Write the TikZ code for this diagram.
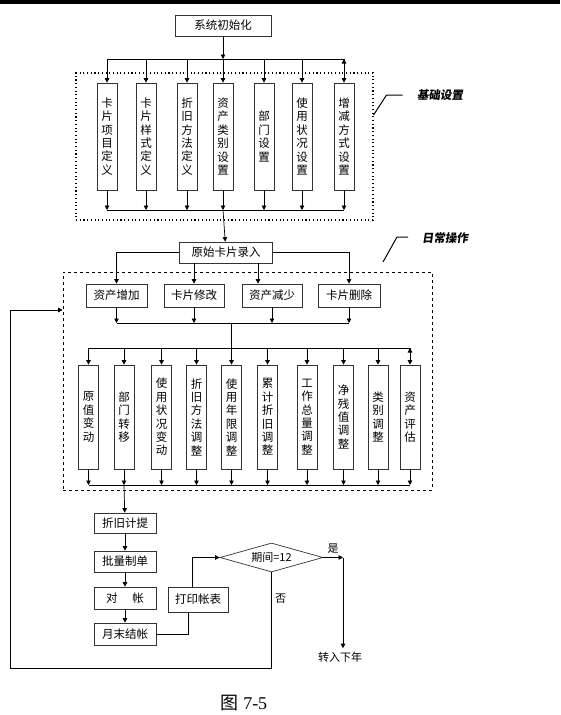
\documentclass[tikz,border=0pt]{standalone}
\usepackage{fontspec}
\usepackage{tikz}
\usetikzlibrary{positioning, shapes.geometric, arrows.meta}
\setmainfont{Liberation Serif}
\newfontfamily\cjk{Noto Sans CJK SC}
\newfontfamily\cjknote[FakeSlant=0.15]{Noto Sans CJK SC}

\begin{document}
\begin{tikzpicture}[x=1pt, y=-1pt, >={Triangle[length=4.5pt, width=4.5pt]}, line width=0.7pt,
    hbox/.style={draw=black!80, inner sep=0pt, minimum height=21pt, font=\cjk\fontsize{11.5}{13}\selectfont},
    vbox/.style={draw=black!80, inner sep=0pt, minimum width=20pt, align=center, font=\cjk\fontsize{11.5}{13.4}\selectfont},
    note/.style={font=\cjknote\bfseries\fontsize{11.5}{13}\selectfont},
    tag/.style={font=\cjk\fontsize{11}{13}\selectfont}]
    \useasboundingbox (0,0) rectangle (560,715);
    \fill (0,0) rectangle (560,4);

    % basic settings
    \node[hbox, minimum width=96pt] (sys) at (223,25.5) {系统初始化};
    \node[draw, line width=1.1pt, dash pattern=on 1.1pt off 2.6pt, minimum width=297pt, minimum height=147pt] (basic) at (224.5,146.5) {};
    \node[note] (basiclbl) at (440,95) {基础设置};
    \node[vbox, minimum height=107pt] (b1) at (107,136.5) {卡\\片\\项\\目\\定\\义};
    \node[vbox, minimum height=107pt] (b2) at (146,136.5) {卡\\片\\样\\式\\定\\义};
    \node[vbox, minimum height=107pt] (b3) at (187,136.5) {折\\旧\\方\\法\\定\\义};
    \node[vbox, minimum height=107pt] (b4) at (223,136.5) {资\\产\\类\\别\\设\\置};
    \node[vbox, minimum height=107pt] (b5) at (264,136.5) {部\\门\\设\\置};
    \node[vbox, minimum height=107pt] (b6) at (302,136.5) {使\\用\\状\\况\\设\\置};
    \node[vbox, minimum height=107pt] (b7) at (344,136.5) {增\\减\\方\\式\\设\\置};

    \coordinate (top) at (223,59);
    \coordinate (low) at (223,210);
    \draw[->] (sys) -- (top);
    \draw (top -| b1) -- (top -| b7);
    \draw[->] (top -| b1) edge (b1) (top -| b2) edge (b2) (top -| b3) edge (b3) (top) edge (b4)
        (top -| b5) edge (b5) (top -| b6) edge (b6) (top -| b7) edge (b7);
    \draw (low -| b1) -- (low -| b7);
    \draw[->] (b1) edge (b1 |- low) (b2) edge (b2 |- low) (b3) edge (b3 |- low) (b4) edge (low)
        (b5) edge (b5 |- low) (b6) edge (b6 |- low) (b7) edge (b7 |- low);
    \draw[line width=1pt] (basic.east) ++(0,-31.5) -- ++(13,-20) -- ++(16,0);

    % daily operations
    \node[hbox, minimum width=93pt] (rec) at (226,252.5) {原始卡片录入};
    \draw[->] (low) -- (rec);
    \node[draw, dashed, minimum width=369pt, minimum height=218pt] (work) at (247.5,381) {};
    \node[note] (worklbl) at (445,238) {日常操作};
    \coordinate (worktip) at (383,262);
    \draw[line width=1pt] (worktip) -- ++(14,-25) -- ++(11,0);

    \node[hbox, minimum width=61pt, minimum height=23pt] (add) at (116.5,295.5) {资产增加};
    \node[hbox, minimum width=60pt, minimum height=23pt] (mod) at (194,295.5) {卡片修改};
    \node[hbox, minimum width=60pt, minimum height=23pt] (dec) at (272,295.5) {资产减少};
    \node[hbox, minimum width=62pt, minimum height=23pt] (del) at (349,295.5) {卡片删除};
    \coordinate (decin) at (258,263);
    \draw[->] (rec.west) -| (add);
    \draw[->] (rec.east) -| (del);
    \draw[->] (rec.south -| mod) -- (mod);
    \draw[->] (decin) -- (decin |- dec.north);

    \coordinate (mid) at (231,323);
    \coordinate (fan) at (231,348);
    \draw (mid -| add) -- (mid -| del);
    \draw[->] (add) edge (mid -| add) (mod) edge (mid -| mod) (dec) edge (mid -| dec) (del) edge (mid -| del);
    \draw (mid) -- (fan);

    \node[vbox, minimum height=104pt] (c1) at (88.5,417) {原\\值\\变\\动};
    \node[vbox, minimum height=104pt] (c2) at (124,417) {部\\门\\转\\移};
    \node[vbox, minimum height=104pt] (c3) at (161.5,417) {使\\用\\状\\况\\变\\动};
    \node[vbox, minimum height=104pt] (c4) at (196.5,417) {折\\旧\\方\\法\\调\\整};
    \node[vbox, minimum height=104pt] (c5) at (231.5,417) {使\\用\\年\\限\\调\\整};
    \node[vbox, minimum height=104pt] (c6) at (267.5,417) {累\\计\\折\\旧\\调\\整};
    \node[vbox, minimum height=104pt] (c7) at (307,417) {工\\作\\总\\量\\调\\整};
    \node[vbox, minimum height=104pt] (c8) at (343.5,417) {净\\残\\值\\调\\整};
    \node[vbox, minimum height=104pt] (c9) at (378,417) {类\\别\\调\\整};
    \node[vbox, minimum height=104pt] (c10) at (410,417) {资\\产\\评\\估};

    \draw (fan -| c1) -- (fan -| c10);
    \draw[->] (fan -| c1) edge (c1) (fan -| c2) edge (c2) (fan -| c3) edge (c3) (fan -| c4) edge (c4)
        (fan -| c5) edge (c5) (fan -| c6) edge (c6) (fan -| c7) edge (c7) (fan -| c8) edge (c8)
        (fan -| c9) edge (c9) (fan -| c10) edge (c10);
    \coordinate (base) at (124,485);
    \draw (base -| c1) -- (base -| c10);
    \draw[->] (c1) edge (c1 |- base) (c2) edge (base) (c3) edge (c3 |- base) (c4) edge (c4 |- base)
        (c5) edge (c5 |- base) (c6) edge (c6 |- base) (c7) edge (c7 |- base) (c8) edge (c8 |- base)
        (c9) edge (c9 |- base) (c10) edge (c10 |- base);

    % month end
    \node[hbox, minimum width=62pt, minimum height=20pt] (dep) at (125,523) {折旧计提};
    \node[hbox, minimum width=62pt] (batch) at (125,561.5) {批量制单};
    \node[hbox, minimum width=62pt, minimum height=22pt] (chk) at (125,598) {对\hspace{1.3em}帐};
    \node[hbox, minimum width=62pt, minimum height=22pt] (close) at (125,634) {月末结帐};
    \node[hbox, minimum width=60pt, minimum height=25pt] (print) at (198,599.5) {打印帐表};
    \node[diamond, draw=black!80, aspect=3.5, inner sep=0pt, minimum width=103pt, minimum height=29pt, tag] (dia) at (271.5,557.5) {期间=12};
    \node[tag] (next) at (340,657) {转入下年};
    \coordinate (yes) at (343,557.5);
    \coordinate (back) at (10,668);

    \draw[->] (base) -- (dep);
    \draw[->] (dep) -- (batch);
    \draw[->] (batch) -- (chk);
    \draw[->] (chk) -- (close);
    \draw (close.east) -| ([xshift=-10pt]print.south);
    \draw[->] ([xshift=-6pt]print.north) |- (dia.west);
    \draw[->] (dia.east) -- node[above, tag] {是} (yes);
    \draw[->] (yes) -- (yes |- next.north);
    \draw[->] (dia.south) -- node[pos=0.27, right, tag] {否} (dia.south |- back) -- (back) |- ([yshift=71pt]work.west);

    \node[font=\fontsize{18}{20}\selectfont] (cap) at (244,703) {{\cjk 图} 7-5};
\end{tikzpicture}
\end{document}
